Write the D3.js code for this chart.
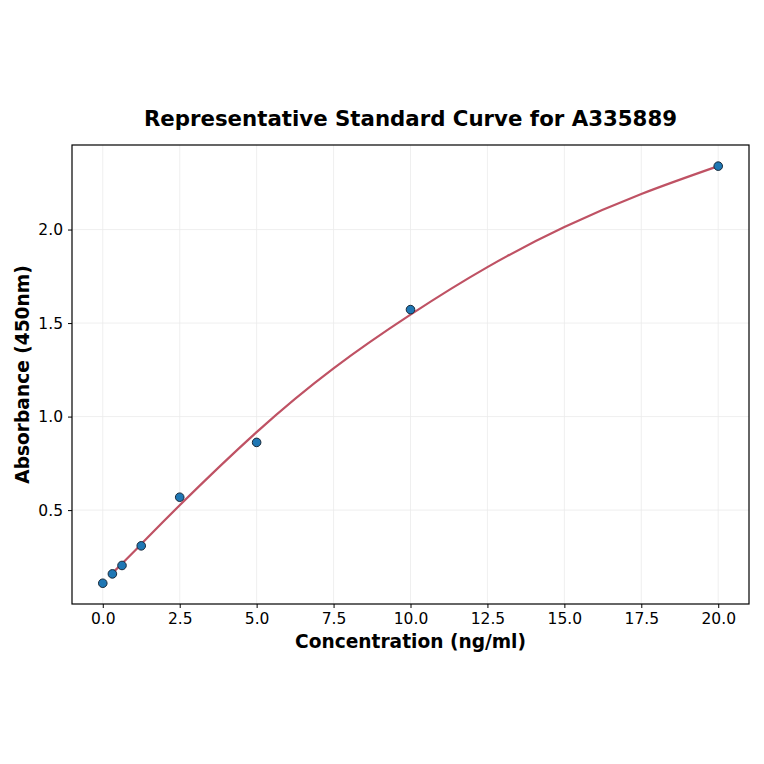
<!DOCTYPE html>
<html>
<head>
    <meta charset='utf-8'>
    <title>Representative Standard Curve for A335889</title>
    <script src="https://cdnjs.cloudflare.com/ajax/libs/d3/7.8.5/d3.min.js"></script>
    <style>
        body { margin: 0; background: #fff; }
        svg { display: block; font-family: "DejaVu Sans", sans-serif; }
    </style>
</head>
<body>
    <div id="chart"></div>
    <script>
// Standard points
const concentrations = [0, 0.3125, 0.625, 1.25, 2.5, 5, 10, 20];
const absorbances = [0.109, 0.159, 0.204, 0.309, 0.569, 0.862, 1.572, 2.339];

// Fitted curve
const curveX = [0.3125, 1.25, 2.5, 5, 7.5, 10, 12.5, 15, 17.5, 20];
const curveY = [0.163, 0.318, 0.526, 0.917, 1.258, 1.545, 1.799, 2.013, 2.19, 2.339];

const xTicks = [0, 2.5, 5, 7.5, 10, 12.5, 15, 17.5, 20];
const yTicks = [0.5, 1.0, 1.5, 2.0];

const width = 764, height = 764;
const margin = { top: 145, right: 15, bottom: 160, left: 72 };
const plotW = width - margin.left - margin.right;
const plotH = height - margin.top - margin.bottom;

const svg = d3.select("#chart")
    .append("svg")
    .attr("width", width)
    .attr("height", height);

const g = svg.append("g")
    .attr("transform", `translate(${margin.left},${margin.top})`);

const x = d3.scaleLinear().domain([-1, 21]).range([0, plotW]);
const y = d3.scaleLinear().domain([-0.002, 2.452]).range([plotH, 0]);

// grid
g.append("g").selectAll("line")
    .data(xTicks)
    .enter().append("line")
    .attr("x1", d => x(d)).attr("x2", d => x(d))
    .attr("y1", 0).attr("y2", plotH)
    .style("stroke", "#ebebeb").style("stroke-width", 0.8);

g.append("g").selectAll("line")
    .data(yTicks)
    .enter().append("line")
    .attr("x1", 0).attr("x2", plotW)
    .attr("y1", d => y(d)).attr("y2", d => y(d))
    .style("stroke", "#ebebeb").style("stroke-width", 0.8);

// axes
const xAxis = g.append("g")
    .attr("transform", `translate(0,${plotH})`)
    .call(d3.axisBottom(x).tickValues(xTicks).tickFormat(d3.format(".1f")).tickSizeOuter(0).tickSize(4).tickPadding(5));

const yAxis = g.append("g")
    .call(d3.axisLeft(y).tickValues(yTicks).tickFormat(d3.format(".1f")).tickSizeOuter(0).tickSize(4).tickPadding(5));

[xAxis, yAxis].forEach(a => {
    a.select(".domain").remove();
    a.selectAll("text").style("font-size", "15.5px").style("fill", "#000")
        .style("font-family", "DejaVu Sans, sans-serif");
    a.selectAll("line").style("stroke", "#000").style("stroke-width", 1);
});

// fitted curve
const line = d3.line()
    .x((d, i) => x(curveX[i]))
    .y(d => y(d))
    .curve(d3.curveNatural);

g.append("path")
    .datum(curveY)
    .attr("d", line)
    .style("fill", "none")
    .style("stroke", "#bf5264")
    .style("stroke-width", 2.2);

// points
g.append("g").selectAll("circle")
    .data(absorbances)
    .enter().append("circle")
    .attr("cx", (d, i) => x(concentrations[i]))
    .attr("cy", d => y(d))
    .attr("r", 4.3)
    .style("fill", "#1f77b4")
    .style("stroke", "#1a2a3a")
    .style("stroke-width", 1);

// frame
g.append("rect")
    .attr("width", plotW).attr("height", plotH)
    .style("fill", "none")
    .style("stroke", "#000")
    .style("stroke-width", 1.2);

// title and labels
svg.append("text")
    .attr("x", margin.left + plotW / 2)
    .attr("y", 126)
    .attr("text-anchor", "middle")
    .style("font-size", "21.3px")
    .style("font-weight", "bold")
    .text("Representative Standard Curve for A335889");

svg.append("text")
    .attr("x", margin.left + plotW / 2)
    .attr("y", 648)
    .attr("text-anchor", "middle")
    .style("font-size", "18.6px")
    .style("font-weight", "bold")
    .text("Concentration (ng/ml)");

svg.append("text")
    .attr("transform", `translate(29,${margin.top + plotH / 2}) rotate(-90)`)
    .attr("text-anchor", "middle")
    .style("font-size", "18.6px")
    .style("font-weight", "bold")
    .text("Absorbance (450nm)");
    </script>
</body>
</html>
